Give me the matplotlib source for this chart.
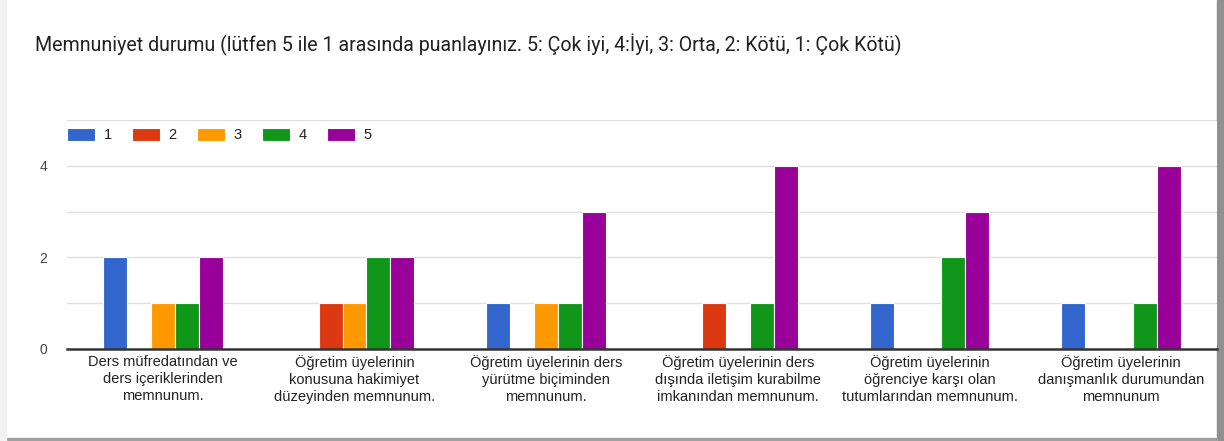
import numpy as np
import matplotlib
matplotlib.use('Agg')
import matplotlib.pyplot as plt
from matplotlib.patches import Rectangle

title = 'Memnuniyet durumu (lütfen 5 ile 1 arasında puanlayınız. 5: Çok iyi, 4:İyi, 3: Orta, 2: Kötü, 1: Çok Kötü)'
categories = [
    'Ders müfredatından ve\nders içeriklerinden\nmemnunum.',
    'Öğretim üyelerinin\nkonusuna hakimiyet\ndüzeyinden memnunum.',
    'Öğretim üyelerinin ders\nyürütme biçiminden\nmemnunum.',
    'Öğretim üyelerinin ders\ndışında iletişim kurabilme\nimkanından memnunum.',
    'Öğretim üyelerinin\nöğrenciye karşı olan\ntutumlarından memnunum.',
    'Öğretim üyelerinin\ndanışmanlık durumundan\nmemnunum',
]
series_names = ['1', '2', '3', '4', '5']
s1 = [2, 0, 1, 0, 1, 1]
s2 = [0, 1, 0, 1, 0, 0]
s3 = [1, 1, 1, 0, 0, 0]
s4 = [1, 2, 1, 1, 2, 1]
s5 = [2, 2, 3, 4, 3, 4]
colors = ['#3366cc', '#dc3912', '#ff9900', '#109618', '#990099']

fig = plt.figure(figsize=(12.24, 4.41), dpi=100)
fig.patch.set_facecolor('white')
ax = fig.add_axes([67/1224, 1 - 349/441, 1150/1224, 229/441])

x = np.arange(len(categories))
w = 0.125
for i, (vals, name) in enumerate(zip([s1, s2, s3, s4, s5], series_names)):
    ax.bar(x + (i - 2) * w, vals, width=w, color=colors[i], edgecolor='white',
           linewidth=0.8, label=name, zorder=3)

ax.set_xlim(-0.5, len(categories) - 0.5)
ax.set_ylim(0, 5)
ax.set_yticks([0, 2, 4])
ax.set_yticks([1, 3, 5], minor=True)
ax.tick_params(axis='y', which='both', length=0, labelsize=10, labelcolor='#444444', pad=14)
ax.tick_params(axis='x', length=0, pad=4)
ax.set_xticks(x)
ax.set_xticklabels(categories, fontsize=10.5, color='#222222', family='Liberation Sans', linespacing=1.3)
for lab in ax.get_yticklabels():
    lab.set_family('Liberation Sans')
ax.grid(axis='y', which='both', color='#e0e0e0', linewidth=1, zorder=0)
for s in ['left', 'right', 'top']:
    ax.spines[s].set_visible(False)
ax.spines['bottom'].set_color('#333333')
ax.spines['bottom'].set_linewidth(1.8)
ax.spines['bottom'].set_zorder(4)

leg = ax.legend(loc='center left', bbox_to_anchor=(0.0, 0.935), ncol=5, frameon=False,
                handlelength=1.95, handleheight=1.0, handletextpad=0.55,
                columnspacing=1.4, borderaxespad=0, borderpad=0,
                prop={'family': 'Liberation Sans', 'size': 10.5})
for t in leg.get_texts():
    t.set_color('#222222')

fig.text(35/1224, 1 - 45/441, title, fontsize=14.1, family='Roboto', color='#212121', va='center')

# card border / shadow
fig.patches.append(Rectangle((1217/1224, 0), 7/1224, 1, transform=fig.transFigure,
                             color='#909090', zorder=-1))
fig.patches.append(Rectangle((0, 0), 1217/1224, 3.5/441, transform=fig.transFigure,
                             color='#a0a0a0', zorder=-1))
fig.patches.append(Rectangle((0, 0), 6/1224, 1, transform=fig.transFigure,
                             color='#f2f2f2', zorder=-1))

fig.savefig('out.png', dpi=100, facecolor='white')
